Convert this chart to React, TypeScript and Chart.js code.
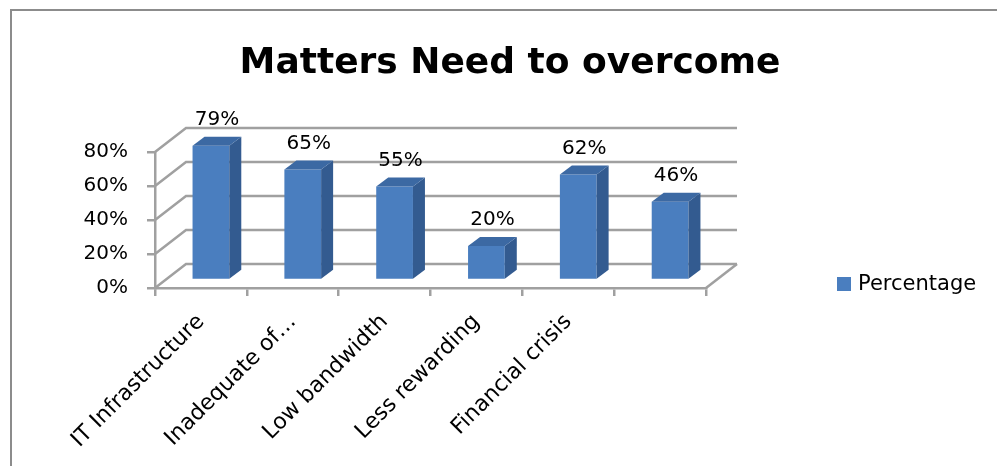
import React, { useEffect, useRef } from "react";
import { Chart, registerables } from "chart.js";

Chart.register(...registerables);

const title = "Matters Need to overcome";
const categories = ["IT Infrastructure", "Inadequate of…", "Low bandwidth", "Less rewarding", "Financial crisis", ""];
const percentage = [0.79, 0.65, 0.55, 0.2, 0.62, 0.46];
const valueLabels = ["79%", "65%", "55%", "20%", "62%", "46%"];
const yTickLabels = ["0%", "20%", "40%", "60%", "80%"];
const seriesName = "Percentage";

const FONT = "'DejaVu Sans', sans-serif";
const FRONT = "#4A7EBF";
const SIDE = "#335B90";
const TOP = "#3C69A3";
const GRID = "#A0A0A0";
const DEPTH = { dx: 31, dy: -24 };
const BAR_SHIFT = { dx: 10, dy: -8 };
const BAR_DEPTH = { dx: 12, dy: -9 };

const threeD = {
  id: "threeD",
  beforeDraw(chart: any) {
    const ctx = chart.ctx;
    ctx.save();
    ctx.fillStyle = "#ffffff";
    ctx.fillRect(0, 0, chart.width, chart.height);
    ctx.strokeStyle = "#8C8C8C";
    ctx.lineWidth = 2;
    ctx.beginPath();
    ctx.moveTo(11, chart.height + 5);
    ctx.lineTo(11, 10);
    ctx.lineTo(chart.width + 5, 10);
    ctx.stroke();
    ctx.restore();
  },
  beforeDatasetsDraw(chart: any) {
    const ctx = chart.ctx;
    const y = chart.scales.y;
    const x = chart.scales.x;
    const left = x.left;
    const right = x.right;
    ctx.save();
    ctx.strokeStyle = GRID;
    ctx.lineWidth = 2.5;
    y.ticks.forEach((t: any) => {
      const py = y.getPixelForValue(t.value);
      ctx.beginPath();
      ctx.moveTo(left, py);
      ctx.lineTo(left + DEPTH.dx, py + DEPTH.dy);
      ctx.lineTo(right + DEPTH.dx, py + DEPTH.dy);
      ctx.stroke();
    });
    const p0 = y.getPixelForValue(0);
    ctx.beginPath();
    ctx.moveTo(right, p0);
    ctx.lineTo(right + DEPTH.dx, p0 + DEPTH.dy);
    ctx.stroke();
    ctx.restore();
    ctx.save();
    ctx.translate(BAR_SHIFT.dx, BAR_SHIFT.dy);
  },
  afterDatasetsDraw(chart: any) {
    const ctx = chart.ctx;
    const meta = chart.getDatasetMeta(0);
    meta.data.forEach((bar: any, i: number) => {
      const { x, y, base, width } = bar.getProps(["x", "y", "base", "width"], true);
      const l = x - width / 2;
      const r = x + width / 2;
      ctx.fillStyle = SIDE;
      ctx.beginPath();
      ctx.moveTo(r, y);
      ctx.lineTo(r + BAR_DEPTH.dx, y + BAR_DEPTH.dy);
      ctx.lineTo(r + BAR_DEPTH.dx, base + BAR_DEPTH.dy);
      ctx.lineTo(r, base);
      ctx.closePath();
      ctx.fill();
      ctx.fillStyle = TOP;
      ctx.beginPath();
      ctx.moveTo(l, y);
      ctx.lineTo(l + BAR_DEPTH.dx, y + BAR_DEPTH.dy);
      ctx.lineTo(r + BAR_DEPTH.dx, y + BAR_DEPTH.dy);
      ctx.lineTo(r, y);
      ctx.closePath();
      ctx.fill();
      ctx.fillStyle = "#000000";
      ctx.font = `20px ${FONT}`;
      ctx.textAlign = "center";
      ctx.textBaseline = "alphabetic";
      ctx.fillText(valueLabels[i], x + BAR_DEPTH.dx / 2, y + BAR_DEPTH.dy - 12);
    });
    ctx.restore();
  },
  afterDraw(chart: any) {
    const ctx = chart.ctx;
    ctx.save();
    ctx.fillStyle = FRONT;
    ctx.fillRect(837, 277, 14, 14);
    ctx.fillStyle = "#000000";
    ctx.font = `21px ${FONT}`;
    ctx.textAlign = "left";
    ctx.textBaseline = "middle";
    ctx.fillText(seriesName, 858, 285);
    ctx.restore();
  },
};

export default function App() {
  const ref = useRef<HTMLCanvasElement>(null);
  useEffect(() => {
    document.body.style.margin = "0";
    const chart = new Chart(ref.current as HTMLCanvasElement, {
      type: "bar",
      data: {
        labels: categories,
        datasets: [
          {
            label: seriesName,
            data: percentage,
            backgroundColor: FRONT,
            borderWidth: 0,
            barPercentage: 0.4,
            categoryPercentage: 1,
            clip: false as any,
          },
        ],
      },
      options: {
        responsive: false,
        animation: false,
        layout: { padding: { left: 23, right: 0, top: 0, bottom: 0 } },
        plugins: {
          legend: { display: false },
          tooltip: { enabled: false },
          title: {
            display: true,
            text: title,
            color: "#000000",
            font: { family: FONT, size: 36, weight: "bold" },
            padding: { top: 42, bottom: 66.8 },
          },
        },
        scales: {
          x: {
            offset: true,
            grid: { offset: true, drawOnChartArea: false, color: GRID, lineWidth: 2.5, tickLength: 8 },
            border: { display: true, color: GRID, width: 2.5 },
            ticks: {
              autoSkip: false,
              minRotation: 45,
              maxRotation: 45,
              color: "#000000",
              font: { family: FONT, size: 22 },
              padding: 13,
            },
            afterFit: (s: any) => {
              s.height = 178;
            },
          },
          y: {
            min: 0,
            max: 0.8,
            grid: { drawOnChartArea: false, color: GRID, lineWidth: 2.5, tickLength: 8 },
            border: { display: true, color: GRID, width: 2.5 },
            ticks: {
              stepSize: 0.2,
              color: "#000000",
              font: { family: FONT, size: 20 },
              padding: 19,
              callback: (_v: any, i: number) => yTickLabels[i],
            },
            afterFit: (s: any) => {
              s.width = 132;
            },
          },
          y2: {
            type: "linear",
            position: "right",
            display: true,
            grid: { display: false },
            border: { display: false },
            ticks: { display: false },
            afterFit: (s: any) => {
              s.width = 291;
            },
          },
        },
      },
      plugins: [threeD],
    });
    return () => chart.destroy();
  }, []);
  return (
    <div style={{ position: "fixed", left: 0, top: 0, width: 997, height: 466, background: "#fff" }}>
      <canvas ref={ref} width={997} height={466} />
    </div>
  );
}
